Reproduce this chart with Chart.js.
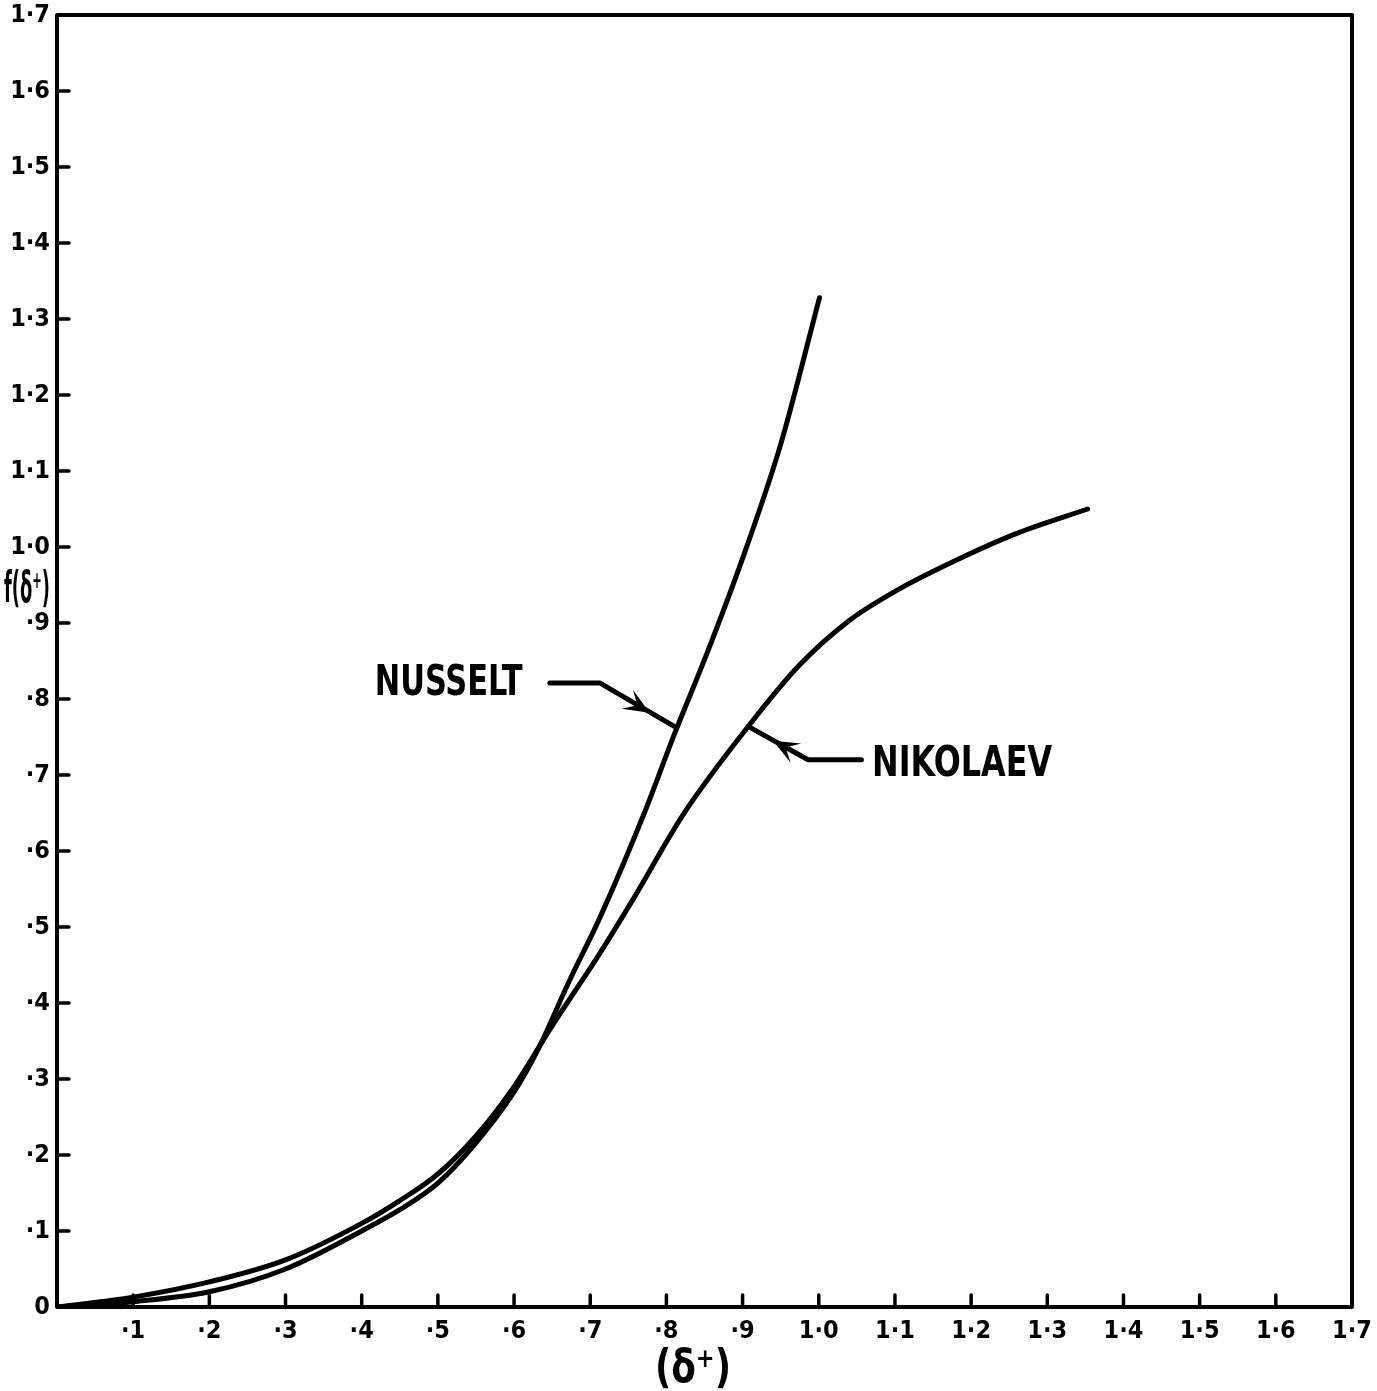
<!DOCTYPE html>
<html><head><meta charset="utf-8">
<script src="https://cdn.jsdelivr.net/npm/chart.js@4.4.0/dist/chart.umd.min.js"></script>
<style>html,body{margin:0;padding:0;background:#fff}</style>
</head><body>
<canvas id="c" width="1377" height="1391" style="display:block;width:1377px;height:1391px"></canvas>
<script>
// ---- data ----
const tickValues = [0,0.1,0.2,0.3,0.4,0.5,0.6,0.7,0.8,0.9,1.0,1.1,1.2,1.3,1.4,1.5,1.6,1.7];
const xTickLabels = ['','·1','·2','·3','·4','·5','·6','·7','·8','·9','1·0','1·1','1·2','1·3','1·4','1·5','1·6','1·7'];
const yTickLabels = ['0','·1','·2','·3','·4','·5','·6','·7','·8','·9','1·0','1·1','1·2','1·3','1·4','1·5','1·6','1·7'];

const nusseltX = [0,0.1,0.2,0.3,0.4,0.45,0.5,0.55,0.6,0.63,0.673,0.713,0.769,0.811,0.854,0.90,0.95,1.001];
const nusseltY = [0,0.007,0.020,0.050,0.100,0.128,0.163,0.216,0.283,0.336,0.430,0.513,0.645,0.755,0.862,0.985,1.135,1.328];

const nikolaevX = [0,0.1,0.2,0.3,0.4,0.45,0.5,0.55,0.6,0.65,0.713,0.756,0.822,0.909,0.975,1.041,1.106,1.181,1.260,1.353];
const nikolaevY = [0,0.013,0.033,0.062,0.110,0.140,0.175,0.225,0.290,0.370,0.466,0.536,0.648,0.766,0.845,0.904,0.945,0.983,1.018,1.050];

const seriesNames = ['NUSSELT','NIKOLAEV'];
const xTitle = '(δ⁺)';
const yTitle = 'f(δ⁺)';

const toPts = (xs, ys) => xs.map((x,i)=>({x, y: ys[i]}));
const tickFontSpec = { family: '"DejaVu Sans Condensed", "DejaVu Sans", sans-serif', size: 25, weight: 'bold' };

const decor = {
  id: 'decor',
  afterDraw(chart) {
    const ctx = chart.ctx, a = chart.chartArea;
    const xs = chart.scales.x, ys = chart.scales.y;
    const P = (x,y)=>[xs.getPixelForValue(x), ys.getPixelForValue(y)];
    ctx.save();
    ctx.strokeStyle = '#000'; ctx.fillStyle = '#000';
    ctx.lineCap = 'round'; ctx.lineJoin = 'round';
    ctx.lineWidth = 4;
    ctx.strokeRect(a.left, a.top, a.right - a.left, a.bottom - a.top);
    ctx.lineWidth = 3.5;
    tickValues.forEach(v => {
      if (v <= 0 || v >= 1.7) return;
      const px = xs.getPixelForValue(v);
      ctx.beginPath(); ctx.moveTo(px, a.bottom); ctx.lineTo(px, a.bottom - 12); ctx.stroke();
      const py = ys.getPixelForValue(v);
      ctx.beginPath(); ctx.moveTo(a.left, py); ctx.lineTo(a.left + 12, py); ctx.stroke();
    });
    function arrow(pts, tip, from) {
      ctx.lineWidth = 5;
      ctx.beginPath();
      pts.forEach((p,i)=>{ const q = P(p[0],p[1]); i ? ctx.lineTo(q[0],q[1]) : ctx.moveTo(q[0],q[1]); });
      ctx.stroke();
      const t = P(tip[0],tip[1]), f = P(from[0],from[1]);
      const ang = Math.atan2(t[1]-f[1], t[0]-f[0]);
      const L = 26, W = 11;
      ctx.beginPath();
      ctx.moveTo(t[0], t[1]);
      ctx.lineTo(t[0] - L*Math.cos(ang) + W*Math.sin(ang), t[1] - L*Math.sin(ang) - W*Math.cos(ang));
      ctx.lineTo(t[0] - 0.55*L*Math.cos(ang), t[1] - 0.55*L*Math.sin(ang));
      ctx.lineTo(t[0] - L*Math.cos(ang) - W*Math.sin(ang), t[1] - L*Math.sin(ang) + W*Math.cos(ang));
      ctx.closePath(); ctx.fill();
    }
    arrow([[0.647,0.821],[0.713,0.821],[0.812,0.763]], [0.778,0.782], [0.713,0.821]);
    arrow([[1.056,0.720],[0.986,0.720],[0.909,0.763]], [0.940,0.745], [0.986,0.720]);
    function fitText(txt, x, y, w, font) {
      ctx.font = font; ctx.textAlign = 'left'; ctx.textBaseline = 'alphabetic';
      const m = ctx.measureText(txt).width;
      ctx.save(); ctx.translate(x, y); ctx.scale(w / m, 1); ctx.fillText(txt, 0, 0); ctx.restore();
    }
    const lf = 'bold 43px "DejaVu Sans Condensed", "DejaVu Sans", sans-serif';
    let p = P(0.417, 0.805); fitText(seriesNames[0], p[0], p[1], 148, lf);
    p = P(1.070, 0.699); fitText(seriesNames[1], p[0], p[1], 180, lf);
    fitText(xTitle, 655, 1382, 76, 'bold 46px "DejaVu Sans", sans-serif');
    fitText(yTitle, 4, 602, 46, 'bold 42px "DejaVu Sans Condensed", sans-serif');
    ctx.restore();
  }
};

new Chart(document.getElementById('c'), {
  type: 'line',
  data: {
    datasets: [
      { label: seriesNames[0], data: toPts(nusseltX, nusseltY) },
      { label: seriesNames[1], data: toPts(nikolaevX, nikolaevY) }
    ]
  },
  options: {
    responsive: false, animation: false,
    layout: { padding: { top: 15, right: 25, left: 0, bottom: 0 } },
    elements: {
      line: { borderColor: '#000', borderWidth: 5, cubicInterpolationMode: 'monotone', fill: false, borderCapStyle: 'round' },
      point: { radius: 0 }
    },
    plugins: { legend: { display: false }, tooltip: { enabled: false } },
    scales: {
      x: {
        type: 'linear', min: 0, max: 1.7,
        afterBuildTicks: s => { s.ticks = tickValues.map(v => ({ value: v })); },
        afterFit: s => { s.height = 84; s.paddingLeft = 0; s.paddingRight = 0; },
        grid: { display: false, drawTicks: false },
        border: { display: false },
        ticks: { padding: 9, color: '#000', font: tickFontSpec,
          maxRotation: 0, autoSkip: false,
          callback: (v) => xTickLabels[Math.round(v * 10)] }
      },
      y: {
        type: 'linear', min: 0, max: 1.7,
        afterBuildTicks: s => { s.ticks = tickValues.map(v => ({ value: v })); },
        afterFit: s => { s.width = 57; s.paddingTop = 0; s.paddingBottom = 0; },
        grid: { display: false, drawTicks: false },
        border: { display: false },
        ticks: { padding: 7, color: '#000', font: tickFontSpec,
          autoSkip: false,
          callback: (v) => yTickLabels[Math.round(v * 10)] }
      }
    }
  },
  plugins: [decor]
});
</script>
</body></html>
